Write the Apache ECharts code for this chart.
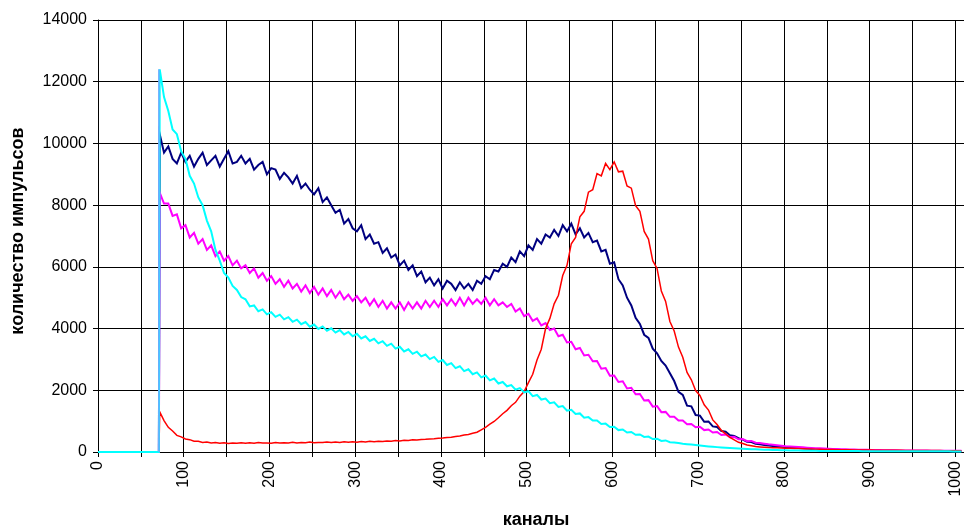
<!DOCTYPE html>
<html>
<head>
<meta charset="utf-8">
<script src="https://cdn.jsdelivr.net/npm/echarts@6/dist/echarts.min.js"></script>
<style>
html,body{margin:0;padding:0;background:#fff;}
#chart{width:964px;height:530px;}
</style>
</head>
<body>
<div id="chart"></div>
<script>
// Channels: leading zero region (0..71), then every 5th channel from 72
const channels = [0, 71];
for (let i = 0; i < 188; i++) channels.push(72 + 5 * i);

const xTickLabels = ['0','100','200','300','400','500','600','700','800','900','1000'];
const yTickLabels = ['0','2000','4000','6000','8000','10000','12000','14000'];

const navyValues = [0, 0,
 10300, 9700, 9900, 9500, 9350, 9700, 9400, 9600, 9250, 9500, 9700, 9300, 9450, 9600, 9250, 9500, 9750, 9350, 9400, 9600,
 9350, 9500, 9150, 9300, 9400, 9000, 9200, 9150, 8850, 9050, 8900, 8700, 8950, 8550, 8700, 8500, 8350, 8550, 8100, 8250,
 8000, 7750, 7850, 7400, 7550, 7250, 7150, 7350, 6900, 7050, 6750, 6800, 6450, 6600, 6300, 6400, 6050, 6200, 5900, 6050,
 5700, 5850, 5500, 5650, 5400, 5600, 5300, 5550, 5450, 5250, 5500, 5300, 5450, 5250, 5550, 5450, 5700, 5600, 5900, 5850,
 6100, 6000, 6300, 6150, 6500, 6350, 6700, 6550, 6900, 6750, 7050, 6950, 7200, 7000, 7350, 7150, 7400, 7050, 7250, 6950,
 7100, 6800, 6850, 6500, 6550, 6100, 6150, 5600, 5400, 5000, 4750, 4350, 4150, 3800, 3700, 3350, 3200, 2950, 2800, 2550,
 2300, 1950, 1850, 1500, 1480, 1200, 1180, 980, 990, 830, 810, 680, 660, 540, 520, 450, 400, 330, 320, 270,
 250, 230, 210, 195, 180, 170, 160, 150, 140, 130, 120, 110, 100, 95, 90, 85, 80, 75, 70, 65,
 62, 60, 58, 55, 52, 50, 48, 46, 44, 42, 40, 38, 36, 35, 34, 33, 32, 31, 30, 29,
 28, 27, 26, 25, 24, 23, 22, 21];

const magentaValues = [0, 0,
 8400, 8050, 8050, 7650, 7700, 7250, 7350, 6950, 7100, 6750, 6900, 6550, 6700, 6350, 6500, 6200, 6350, 6050, 6200, 5950,
 6050, 5800, 5950, 5650, 5800, 5550, 5700, 5450, 5600, 5350, 5550, 5300, 5450, 5200, 5400, 5150, 5350, 5100, 5300, 5050,
 5250, 5000, 5200, 4950, 5100, 4900, 5050, 4850, 5000, 4750, 4950, 4700, 4900, 4650, 4850, 4650, 4850, 4600, 4850, 4650,
 4850, 4650, 4900, 4700, 4900, 4700, 4950, 4750, 4950, 4750, 5000, 4750, 5000, 4800, 4950, 4800, 5000, 4750, 4950, 4750,
 4850, 4700, 4800, 4550, 4650, 4400, 4480, 4250, 4330, 4100, 4180, 3950, 4000, 3750, 3800, 3550, 3570, 3330, 3370, 3130,
 3150, 2940, 2950, 2700, 2720, 2470, 2480, 2270, 2290, 2060, 2080, 1870, 1880, 1670, 1680, 1470, 1490, 1290, 1300, 1140,
 1140, 1020, 1020, 900, 910, 800, 820, 710, 730, 630, 650, 550, 570, 480, 490, 410, 420, 350, 360, 300,
 290, 270, 250, 235, 220, 205, 190, 180, 170, 160, 150, 140, 132, 125, 118, 112, 106, 100, 95, 90,
 86, 82, 78, 75, 72, 69, 66, 64, 62, 60, 58, 56, 54, 52, 50, 49, 48, 47, 46, 45,
 44, 43, 42, 41, 40, 40, 39, 38];

const redValues = [0, 0,
 1300, 1020, 800, 680, 540, 490, 420, 400, 350, 345, 310, 320, 290, 305, 280, 300, 275, 295, 280, 300,
 285, 300, 280, 305, 290, 295, 285, 310, 290, 300, 295, 315, 295, 305, 300, 320, 300, 310, 305, 320,
 305, 325, 310, 330, 315, 330, 320, 340, 325, 345, 335, 350, 340, 360, 350, 370, 360, 380, 375, 395,
 390, 405, 410, 425, 430, 445, 450, 470, 480, 505, 520, 550, 570, 610, 640, 720, 800, 900, 990, 1110,
 1240, 1350, 1500, 1610, 1810, 1960, 2250, 2520, 2980, 3330, 4000, 4330, 4800, 5080, 5720, 6050, 6750, 6950, 7620, 7800,
 8420, 8500, 9020, 8950, 9350, 9150, 9400, 9080, 9100, 8620, 8550, 7980, 7800, 7150, 6900, 6200, 5950, 5220, 4880, 4230,
 3920, 3400, 3070, 2580, 2340, 1990, 1830, 1530, 1360, 1040, 890, 700, 590, 470, 395, 315, 275, 228, 202, 178,
 165, 155, 145, 140, 135, 130, 125, 120, 115, 110, 105, 100, 96, 92, 88, 85, 82, 79, 76, 74,
 72, 70, 68, 66, 64, 62, 61, 60, 58, 57, 56, 55, 54, 53, 52, 51, 50, 49, 48, 47,
 46, 45, 45, 44, 44, 43, 43, 42];

const cyanValues = [0, 0,
 12400, 11500, 11050, 10450, 10300, 9750, 9500, 8950, 8700, 8250, 8000, 7500, 7150, 6550, 6200, 5800, 5650, 5380, 5250, 5020,
 4950, 4720, 4750, 4560, 4620, 4460, 4530, 4380, 4450, 4300, 4370, 4220, 4290, 4140, 4210, 4060, 4130, 3990, 4070, 3930,
 4010, 3870, 3950, 3810, 3890, 3750, 3830, 3680, 3750, 3600, 3670, 3520, 3590, 3440, 3510, 3350, 3410, 3260, 3330, 3180,
 3250, 3100, 3160, 3010, 3080, 2920, 2980, 2820, 2880, 2720, 2780, 2620, 2680, 2520, 2580, 2420, 2480, 2320, 2380, 2220,
 2270, 2130, 2170, 2020, 2070, 1930, 1970, 1810, 1850, 1700, 1730, 1580, 1610, 1460, 1490, 1340, 1370, 1230, 1250, 1110,
 1130, 1020, 1020, 910, 920, 810, 820, 710, 730, 630, 650, 560, 570, 490, 500, 420, 430, 360, 375, 315,
 310, 290, 270, 255, 240, 225, 210, 195, 182, 170, 158, 147, 137, 128, 120, 112, 105, 98, 92, 86,
 80, 75, 70, 66, 62, 58, 55, 52, 49, 46, 44, 42, 40, 38, 36, 35, 34, 33, 32, 31,
 30, 30, 29, 29, 28, 28, 27, 27, 26, 26, 25, 25, 25, 24, 24, 24, 23, 23, 23, 22,
 22, 22, 21, 21, 21, 20, 20, 20];

// light-blue step at the start channel
const stepChannels = [71, 71];
const stepValues = [0, 12400];

const pairs = (xs, ys) => xs.map((x, i) => [x, ys[i]]);
const FONT = '"Liberation Sans", Arial, sans-serif';

const chart = echarts.init(document.getElementById('chart'), null, {renderer: 'canvas'});
const lineSeries = (name, color, values, w) => ({
  name, type: 'line', data: pairs(channels, values), showSymbol: false, symbol: 'none',
  lineStyle: {color, width: w, join: 'miter'}, itemStyle: {color}, animation: false, clip: true
});

chart.setOption({
  animation: false,
  backgroundColor: '#fff',
  grid: {left: 98, top: 20, width: 866, height: 432, containLabel: false},
  xAxis: {
    type: 'value', min: 0, max: 1010, interval: 50,
    axisLine: {show: true, lineStyle: {color: '#000', width: 1}},
    axisTick: {show: true, length: 5, lineStyle: {color: '#000'}},
    axisLabel: {
      rotate: 90, margin: 9, fontSize: 16, color: '#000', fontFamily: FONT,
      showMaxLabel: false,
      formatter: v => (xTickLabels.indexOf(String(v)) >= 0 ? String(v) : '')
    },
    splitLine: {show: true, lineStyle: {color: '#000', width: 1}}
  },
  yAxis: {
    type: 'value', min: 0, max: 14000, interval: 2000,
    axisLine: {show: true, lineStyle: {color: '#000', width: 1}},
    axisTick: {show: true, length: 5, lineStyle: {color: '#000'}},
    axisLabel: {
      margin: 11, fontSize: 16, color: '#000', fontFamily: FONT,
      formatter: v => (yTickLabels.indexOf(String(v)) >= 0 ? String(v) : '')
    },
    splitLine: {show: true, lineStyle: {color: '#000', width: 1}}
  },
  graphic: [
    {type: 'text', x: 18, y: 231, rotation: Math.PI / 2,
     style: {text: 'количество импульсов', font: 'bold 18px ' + FONT, fill: '#000', align: 'center', verticalAlign: 'middle'}},
    {type: 'text', x: 536, y: 520,
     style: {text: 'каналы', font: 'bold 18px ' + FONT, fill: '#000', align: 'center', verticalAlign: 'middle'}}
  ],
  series: [
    lineSeries('navy', '#000080', navyValues, 2),
    lineSeries('magenta', '#ff00ff', magentaValues, 2),
    lineSeries('red', '#ff0000', redValues, 1.5),
    lineSeries('cyan', '#00ffff', cyanValues, 2),
    {name: 'step', type: 'line', data: pairs(stepChannels, stepValues), showSymbol: false, symbol: 'none',
     lineStyle: {color: '#6fa8ff', width: 1.5}, animation: false}
  ]
});
</script>
</body>
</html>
